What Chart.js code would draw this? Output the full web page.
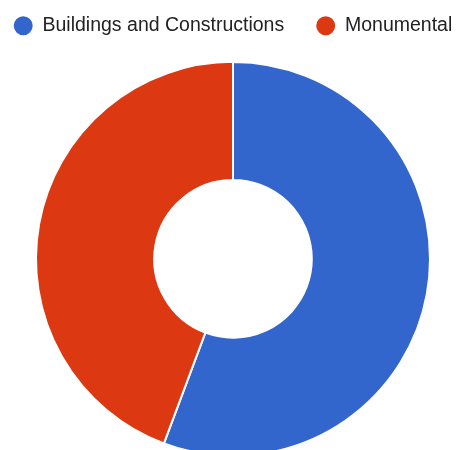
<!DOCTYPE html>
<html>
<head>
<meta charset="utf-8">
<script src="https://cdn.jsdelivr.net/npm/chart.js@4/dist/chart.umd.min.js"></script>
<style>
  html, body { margin: 0; padding: 0; background: #ffffff; }
  #wrap { width: 456px; height: 450px; position: relative; }
</style>
</head>
<body>
<div id="wrap"><canvas id="c" width="456" height="450"></canvas></div>
<script>
const categories = ["Buildings and Constructions", "Monumental"];
const values = [55.7, 44.3];
const sliceColors = ["#3366CC", "#DC3912"];

new Chart(document.getElementById("c"), {
  type: "doughnut",
  data: {
    labels: categories,
    datasets: [{
      data: values,
      backgroundColor: sliceColors,
      borderColor: "#ffffff",
      borderWidth: 2,
      radius: 197,
      cutout: "40%"
    }]
  },
  options: {
    responsive: false,
    animation: false,
    layout: { padding: { top: -16, bottom: 0, left: -25, right: -35 } },
    plugins: {
      tooltip: { enabled: false },
      title: {
        display: true,
        position: "left",
        text: "",
        font: { size: 10, lineHeight: 1 },
        padding: { top: 12.5, bottom: 12.5 }
      },
      subtitle: {
        display: true,
        position: "top",
        weight: 500,
        text: "",
        font: { size: 10, lineHeight: 1 },
        padding: { top: 6, bottom: 6.25 }
      },
      legend: {
        position: "top",
        align: "center",
        labels: {
          usePointStyle: true,
          pointStyle: "circle",
          boxWidth: 19,
          boxHeight: 14.8,
          padding: 32,
          color: "#222222",
          font: { family: "'Liberation Sans', Arial, sans-serif", size: 19.5 }
        }
      }
    }
  }
});
</script>
</body>
</html>
